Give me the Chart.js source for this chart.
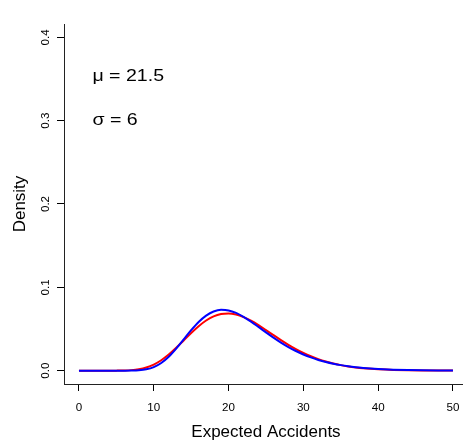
<!DOCTYPE html>
<html>
<head>
<meta charset="utf-8">
<script src="https://cdn.jsdelivr.net/npm/chart.js@4/dist/chart.umd.min.js"></script>
<style>
  html, body { margin: 0; padding: 0; background: #ffffff; overflow: hidden; }
  canvas { display: block; }
</style>
</head>
<body>
<canvas id="chart" width="463" height="440"></canvas>
<script>
// Expected accidents grid and the two density curves
const xValues = [0, 1, 2, 3, 4, 5, 6, 7, 8, 9, 10, 11, 12, 13, 14, 15, 16, 17, 18, 19, 20,
  21, 22, 23, 24, 25, 26, 27, 28, 29, 30, 31, 32, 33, 34, 35, 36, 37, 38, 39, 40,
  42, 44, 46, 48, 50];

const redDensity = [0, 0, 0, 0, 0.000005, 0.00004, 0.00019, 0.00065, 0.00173, 0.00383, 0.00735,
  0.01251, 0.01929, 0.02739, 0.03625, 0.04515, 0.05334, 0.06018, 0.06517, 0.06802, 0.06871,
  0.06738, 0.06433, 0.05993, 0.05459, 0.04871, 0.04265, 0.03670, 0.03107, 0.02591, 0.02130,
  0.01728, 0.01385, 0.01098, 0.00860, 0.00667, 0.00512, 0.00390, 0.00294, 0.00220, 0.00164,
  0.00088, 0.00046, 0.00024, 0.00012, 0.00006];

const blueDensity = [0, 0, 0, 0, 0, 0, 0.00001, 0.00008, 0.00044, 0.00158, 0.00426,
  0.00918, 0.01668, 0.02641, 0.03745, 0.04854, 0.05842, 0.06609, 0.07099, 0.07297, 0.07225,
  0.06928, 0.06462, 0.05885, 0.05250, 0.04600, 0.03967, 0.03375, 0.02837, 0.02359, 0.01943,
  0.01588, 0.01288, 0.01038, 0.00832, 0.00664, 0.00527, 0.00417, 0.00329, 0.00258, 0.00203,
  0.00124, 0.00075, 0.00045, 0.00027, 0.00016];

const xTicks = [0, 10, 20, 30, 40, 50];
const yTicks = [0, 0.1, 0.2, 0.3, 0.4];
const yTickLabels = ['0.0', '0.1', '0.2', '0.3', '0.4'];
const notes = ['\u03BC = 21.5', '\u03C3 = 6'];
const xTitle = 'Expected Accidents';
const yTitle = 'Density';

const FONT = '"Liberation Sans", Arial, Helvetica, sans-serif';

const toPoints = ys => xValues.map((x, i) => ({ x: x, y: ys[i] }));

// Tick labels, axis titles and the parameter notes
const textPlugin = {
  id: 'textPlugin',
  afterDraw(chart) {
    const ctx = chart.ctx;
    const xs = chart.scales.x;
    const ys = chart.scales.y;
    ctx.save();
    ctx.fillStyle = '#000000';

    ctx.font = '11.6px ' + FONT;
    ctx.textAlign = 'center';
    ctx.textBaseline = 'alphabetic';
    xTicks.forEach(v => {
      ctx.fillText(String(v), xs.getPixelForValue(v), 410.5);
    });

    yTicks.forEach((v, i) => {
      ctx.save();
      ctx.translate(49, ys.getPixelForValue(v));
      ctx.rotate(-Math.PI / 2);
      ctx.fillText(yTickLabels[i], 0, 0);
      ctx.restore();
    });

    ctx.font = '17px ' + FONT;
    const cx = (xs.getPixelForValue(-2) + xs.getPixelForValue(52)) / 2;
    ctx.fillText(xTitle, cx, 437);

    ctx.save();
    ctx.translate(25, (chart.chartArea.top + chart.chartArea.bottom) / 2);
    ctx.rotate(-Math.PI / 2);
    ctx.fillText(yTitle, 0, 0);
    ctx.restore();

    ctx.font = '17px ' + FONT;
    ctx.textAlign = 'left';
    const nx = xs.getPixelForValue(1.8);
    [0.348, 0.295].forEach((yv, i) => {
      ctx.save();
      ctx.translate(nx, ys.getPixelForValue(yv));
      ctx.scale(1.15, 1);
      ctx.fillText(notes[i], 0, 0);
      ctx.restore();
    });

    ctx.restore();
  }
};

// The first dataset is painted last, so the blue curve sits above the red one
new Chart(document.getElementById('chart'), {
  type: 'line',
  data: {
    datasets: [
      {
        data: toPoints(blueDensity),
        borderColor: '#0000ff',
        borderWidth: 2,
        pointRadius: 0,
        fill: false,
        cubicInterpolationMode: 'monotone'
      },
      {
        data: toPoints(redDensity),
        borderColor: '#ff0000',
        borderWidth: 2,
        pointRadius: 0,
        fill: false,
        cubicInterpolationMode: 'monotone'
      }
    ]
  },
  options: {
    responsive: false,
    devicePixelRatio: 1,
    animation: false,
    events: [],
    layout: { padding: { top: 24, right: 0, bottom: 0, left: 0 } },
    plugins: {
      legend: { display: false },
      tooltip: { enabled: false },
      title: { display: false }
    },
    scales: {
      x: {
        type: 'linear',
        min: -2,
        max: 51.34,
        afterBuildTicks: s => { s.ticks = xTicks.map(v => ({ value: v })); },
        afterFit: s => { s.height = 56; },
        ticks: { display: false },
        grid: { drawOnChartArea: false, drawTicks: true, tickLength: 7, color: '#000000', lineWidth: 1 },
        border: { display: true, color: '#222222', width: 1 }
      },
      y: {
        type: 'linear',
        min: -0.016,
        max: 0.416,
        afterBuildTicks: s => { s.ticks = yTicks.map(v => ({ value: v })); },
        afterFit: s => { s.width = 64; },
        ticks: { display: false },
        grid: { drawOnChartArea: false, drawTicks: true, tickLength: 7, color: '#000000', lineWidth: 1 },
        border: { display: true, color: '#222222', width: 1 }
      }
    }
  },
  plugins: [textPlugin]
});
</script>
</body>
</html>
